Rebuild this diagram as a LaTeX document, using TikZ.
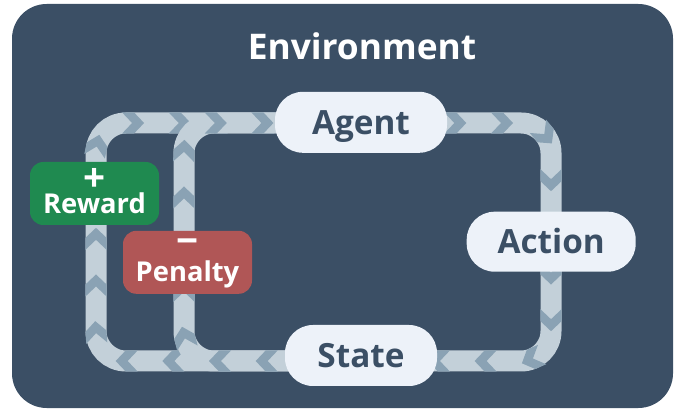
\documentclass[tikz,border=0pt]{standalone}
\usepackage{fontspec}
\setmainfont{Open Sans}
\usepackage{tikz}
\usetikzlibrary{calc,decorations.markings,positioning}
\definecolor{envbg}{HTML}{3B4F65}
\definecolor{pillfill}{HTML}{EDF2F9}
\definecolor{trackcol}{HTML}{C3D0D9}
\definecolor{chevcol}{HTML}{8AA2B4}
\definecolor{rewardgreen}{HTML}{1F8A50}
\definecolor{penaltyred}{HTML}{B05656}
\pgfdeclarelayer{back}
\pgfdeclarelayer{bands}
\pgfsetlayers{back,bands,main}
\tikzset{
pill/.style={fill=pillfill, text=envbg, rounded corners=21pt, inner sep=0pt, text height=18pt, text depth=0pt, font=\fontsize{25}{25}\selectfont\bfseries}, % the white labels on the loop
signbox/.style={rounded corners=10pt, inner sep=0pt, minimum width=96.75pt, minimum height=47.25pt}, % reward and penalty boxes
signtext/.style={text=white, inner sep=0pt, font=\fontsize{20.5}{20.5}\selectfont\bfseries},
bigsign/.style={signtext, font=\fontsize{29}{29}\selectfont\bfseries},
track/.style={draw=trackcol, line width=15.75pt, rounded corners=22.5pt, postaction={decorate},
  decoration={markings, mark=between positions 0 and 1 step 35pt with {\fill[chevcol, sharp corners] (-7.5pt,-7.9pt) -- (1.5pt,-7.9pt) -- (9pt,0pt) -- (1.5pt,7.9pt) -- (-7.5pt,7.9pt) -- (0pt,0pt) -- cycle;}}}, % band with chevrons
}

\begin{document}
\begin{tikzpicture}[x=0.75pt,y=0.75pt,yscale=-1,xscale=1]
\useasboundingbox (0,0) rectangle (678,409);
%Rounded Rect
\begin{pgfonlayer}{back}
\fill [envbg, rounded corners=26pt] (12,4) rectangle (673,408);
\end{pgfonlayer}
\node (title) at (362,46) [text=white, font=\fontsize{26.5}{26.5}\selectfont\bfseries] {Environment};
%Labels on the loop
\node [pill, minimum width=129pt, minimum height=45.75pt] (agent) at (361,122.3) {Agent};
\node [pill, minimum width=126.75pt, minimum height=45pt] (action) at (551.2,241.7) {Action};
\node [pill, minimum width=114pt, minimum height=45.75pt] (state) at (361,355.5) {State};
%Reward and penalty
\node [signbox, fill=rewardgreen] (reward) at (94.5,193.5) {};
\node [bigsign] (plus) at ($(reward)+(0,-13.5)$) {+};
\node [signtext, anchor=base] (rewardtext) at ($(reward)+(0,19.8)$) {Reward};
\node [signbox, fill=penaltyred] (penalty) at (187.5,262.3) {};
\node [bigsign] (minus) at ($(penalty)+(0,-15.8)$) {−};
\node [signtext, anchor=base] (penaltytext) at ($(penalty)+(0,19.4)$) {Penalty};
%Corners of the loops
\coordinate (outerBL) at (96,361);
\coordinate (outerTL) at (96,123);
\coordinate (innerBL) at (184,361);
\coordinate (innerTL) at (184,123);
\coordinate (rightTR) at (551,123);
\coordinate (rightBR) at (551,361);
%Bands
\begin{pgfonlayer}{bands}
\draw [track] (state |- outerBL) -- (outerBL) -- (outerTL) -- (agent |- outerTL);
\draw [track] (state |- innerBL) -- (innerBL) -- (innerTL) -- (agent |- innerTL);
\draw [track] (agent |- rightTR) -- (rightTR) -- (rightBR) -- (state |- rightBR);
\end{pgfonlayer}
\end{tikzpicture}
\end{document}
